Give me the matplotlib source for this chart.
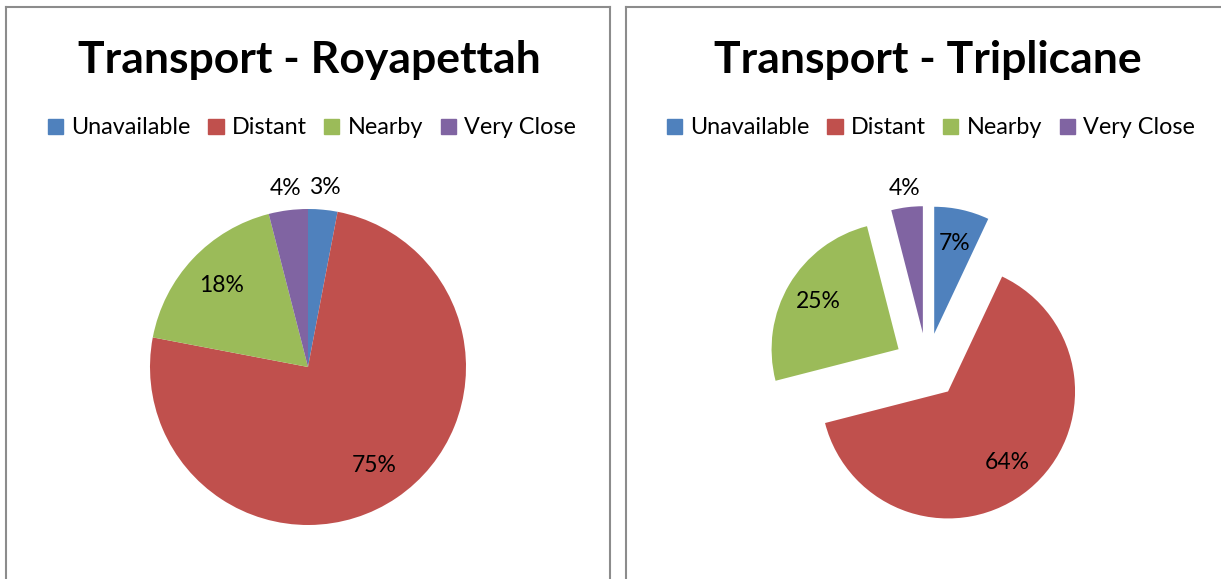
import matplotlib
matplotlib.use("Agg")
import matplotlib.pyplot as plt
from matplotlib.patches import Patch
from matplotlib.lines import Line2D
import numpy as np

plt.rcParams['font.family'] = ['Lato', 'DejaVu Sans']

categories = ["Unavailable", "Distant", "Nearby", "Very Close"]
colors = ["#4F81BD", "#C0504D", "#9BBB59", "#8064A2"]
royapettah = [3, 75, 18, 4]
triplicane = [7, 64, 25, 4]
titles = ["Transport - Royapettah", "Transport - Triplicane"]

W, H = 1221, 579
fig = plt.figure(figsize=(W / 100, H / 100), dpi=100)
fig.patch.set_facecolor("white")

def fx(px):
    return px / W

def fy(py):
    return 1 - py / H

# panel borders
bc = "#8C8C8C"
for (x0, x1) in [(6, 610), (626, 1225)]:
    fig.add_artist(Line2D([fx(x0), fx(x0)], [fy(7), fy(585)], color=bc, lw=1.5, transform=fig.transFigure))
    fig.add_artist(Line2D([fx(x0), fx(x1)], [fy(7), fy(7)], color=bc, lw=1.5, transform=fig.transFigure))
    fig.add_artist(Line2D([fx(x1), fx(x1)], [fy(7), fy(585)], color=bc, lw=1.5, transform=fig.transFigure))


def draw_pie(values, cx, cy, radius_px, explode_frac, inner_dist, outer_dist):
    S = 440
    ax = fig.add_axes([fx(cx - S / 2), fy(cy + S / 2), S / W, S / H])
    L = S / (2 * radius_px)
    explode = [explode_frac] * len(values)
    wedges, _ = ax.pie(values, colors=colors, startangle=90, counterclock=False,
                       explode=explode, radius=1.0, center=(0, 0),
                       wedgeprops=dict(linewidth=0))
    ax.set_xlim(-L, L)
    ax.set_ylim(-L, L)
    ax.set_aspect("equal")
    ax.axis("off")
    total = sum(values)
    for w, v in zip(wedges, values):
        mid = np.deg2rad((w.theta1 + w.theta2) / 2)
        d = outer_dist if v / total < 0.05 else inner_dist
        x = w.center[0] + d * np.cos(mid)
        y = w.center[1] + d * np.sin(mid)
        ax.text(x, y, f"{v}%", ha="center", va="center", fontsize=16.5, color="black")
    return ax


draw_pie(royapettah, 308, 367, 158, 0.0, 0.75, 1.14)
draw_pie(triplicane, 927, 366, 127, 0.26, 0.73, 1.15)

handles = [Patch(facecolor=c, edgecolor=c) for c in colors]
for title, cx, lx in zip(titles, [309, 928], [312, 931]):
    fig.text(fx(cx), fy(73), title, ha="center", va="baseline",
             fontsize=32, fontweight="bold", color="black")
    fig.legend(handles, categories, loc="center", bbox_to_anchor=(fx(lx), fy(128)),
               ncol=4, frameon=False, fontsize=16.8, handlelength=0.65, handleheight=0.65,
               handletextpad=0.35, columnspacing=0.75, borderpad=0)

fig.savefig("out.png", dpi=100, facecolor="white")
